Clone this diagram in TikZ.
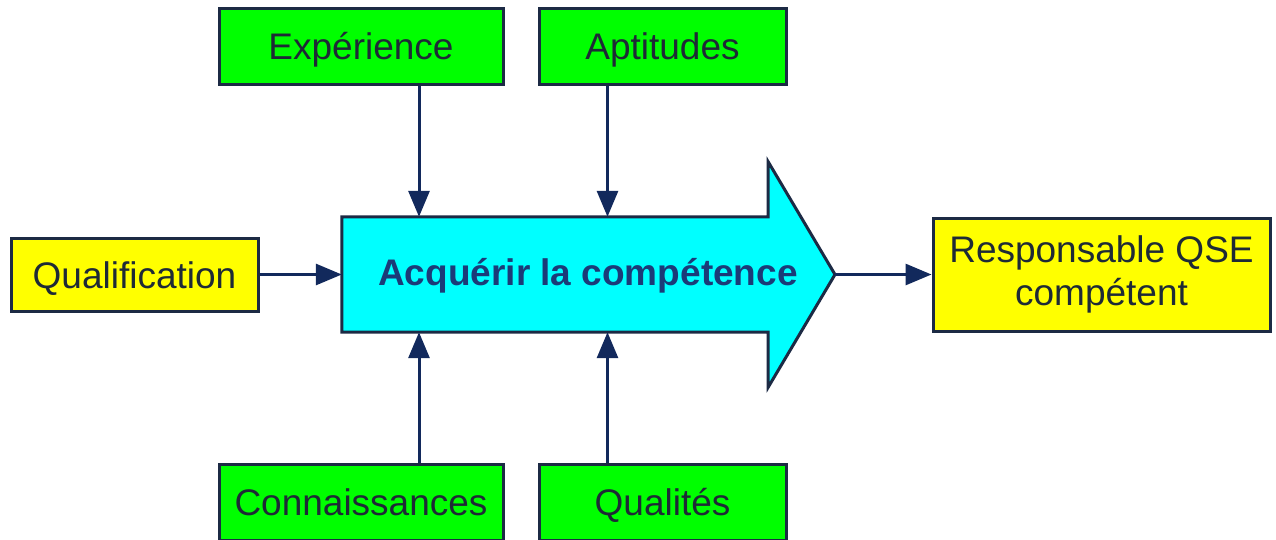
\documentclass[tikz,border=0pt]{standalone}
\usepackage{fontspec}
\setmainfont{Liberation Sans}
\usetikzlibrary{arrows.meta}
\definecolor{bordc}{HTML}{1C2A44}
\definecolor{arrc}{HTML}{12295C}
\definecolor{txtc}{HTML}{1E2A36}
\definecolor{maintxt}{HTML}{1B3B78}
\definecolor{gbox}{HTML}{00FF00}
\definecolor{ybox}{HTML}{FFFF00}
\definecolor{cbox}{HTML}{00FFFF}
\tikzset{
  basebox/.style={draw=bordc, line width=3pt, inner sep=0pt, align=center,
    text=txtc, font=\fontsize{37}{43}\selectfont},
  greenbox/.style={basebox, fill=gbox, text height=27pt, text depth=0pt},
  yellowbox/.style={basebox, fill=ybox},
  conn/.style={draw=arrc, line width=3pt, -{Triangle[length=26pt,width=21pt]}},
}
\begin{document}
\begin{tikzpicture}[x=1pt,y=-1pt]
\useasboundingbox[fill=white] (0,0) rectangle (1276,539);

% boxes
\node[greenbox, minimum width=284pt, minimum height=76pt] (exp) at (361,46) {Expérience};
\node[greenbox, minimum width=247pt, minimum height=76pt] (apt) at (662.5,46) {Aptitudes};
\node[greenbox, minimum width=284pt, minimum height=76pt] (con) at (361,502) {Connaissances};
\node[greenbox, minimum width=247pt, minimum height=76pt] (qua) at (662.5,502) {Qualités};
\node[yellowbox, text height=27pt, text depth=0pt, minimum width=247pt, minimum height=73pt] (qual) at (134.5,274.5) {Qualification};
\node[yellowbox, minimum width=337pt, minimum height=113pt] (resp) at (1101.5,274.5) {Responsable QSE\\compétent};

% main arrow
\node[minimum width=426pt, minimum height=115pt, inner sep=0pt] (acq) at (555,274.5) {};
\coordinate (tip) at (835,274.5);
\filldraw[fill=cbox, draw=bordc, line width=3pt, line join=miter]
  (acq.north west) -- (acq.north east) -- ++(0,-55) -- (tip)
  -- ([yshift=-55pt]acq.south east) -- (acq.south east) -- (acq.south west) -- cycle;
\node[font=\bfseries\fontsize{37}{40}\selectfont, text=maintxt, anchor=base] (acqtxt) at (588,285) {Acquérir la compétence};

% connector x positions
\coordinate (cl) at (419,0);
\coordinate (cr) at (607.5,0);

\draw[conn] (exp.south -| cl) -- (acq.north -| cl);
\draw[conn] (apt.south -| cr) -- (acq.north -| cr);
\draw[conn] (con.north -| cl) -- (acq.south -| cl);
\draw[conn] (qua.north -| cr) -- (acq.south -| cr);
\draw[conn] (qual.east) -- (acq.west);
\draw[conn] (tip) -- (resp.west);
\end{tikzpicture}
\end{document}
